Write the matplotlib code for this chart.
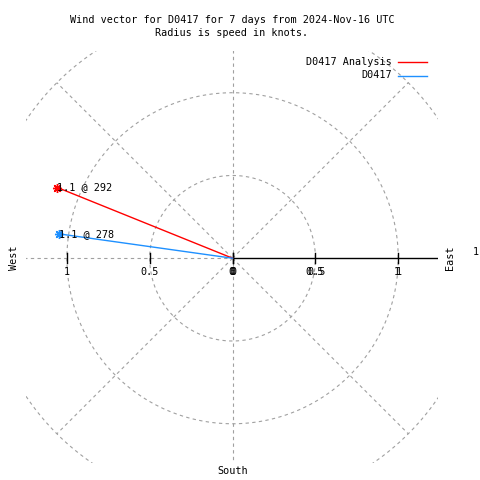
import numpy as np
import matplotlib
matplotlib.use("Agg")
import matplotlib.pyplot as plt

# wind vectors: speed (knots) and direction (degrees, from north clockwise)
names = ["D0417 Analysis", "D0417"]
speeds = [1.14, 1.06]
directions = [292, 278]
colors = ["#ff0000", "#1e90ff"]

r_ticks = [0, 0.5, 1]
grid_radii = [0.5, 1.0, 1.5]
spoke_angles = [45, 135, 225, 315]

W = H = 480
FONT = "DejaVu Sans Mono"
FS = 7.3
GRID = "#a0a0a0"

fig = plt.figure(figsize=(4.8, 4.8), dpi=100)

# pixel box of the plot: x 26..438, y 51..463
ax = fig.add_axes([26 / W, 1 - 463 / H, 412 / W, 412 / H])
ax.set_xlim(-1.247, 1.24)
ax.set_ylim(-1.237, 1.252)
ax.set_axis_off()

dash = dict(color=GRID, lw=0.8, ls=(0, (3, 3)))

# circles
t = np.linspace(0, 2 * np.pi, 400)
for r in grid_radii:
    ax.plot(r * np.cos(t), r * np.sin(t), **dash)

# spokes
for a in spoke_angles:
    ar = np.radians(a)
    ax.plot([0, 1.5 * np.cos(ar)], [0, 1.5 * np.sin(ar)], **dash)
ax.plot([0, 0], [-1.3, 1.3], **dash)
ax.plot([-1.3, 0], [0, 0], **dash)

# r axis
ax.plot([0, 1.3], [0, 0], color="black", lw=1.0)
for r in r_ticks:
    for xx in (r, -r):
        ax.plot([xx, xx], [-0.03, 0.03], color="black", lw=1.0)

# vectors
for name, s, d, c in zip(names, speeds, directions, colors):
    x = s * np.sin(np.radians(d))
    y = s * np.cos(np.radians(d))
    ax.plot([0, x], [0, y], color=c, lw=1.0, label=name)
    ax.plot([x], [y], marker=(8, 2, 0), color=c, ms=6.5, mew=1.0)
    ax.text(x, y, f"{s:.1f} @ {d}", family=FONT, fontsize=FS,
            ha="left", va="center")

# tick labels under the axis (left side once, right side doubled as in the original)
for r in r_ticks:
    lab = f"{r:g}"
    ax.text(-r, -0.085, lab, family=FONT, fontsize=FS, ha="center", va="center")
    ax.text(r - 0.006, -0.085, lab, family=FONT, fontsize=FS, ha="center", va="center")
    ax.text(r + 0.006, -0.085, lab, family=FONT, fontsize=FS, ha="center", va="center")

# legend drawn by hand
for i, (name, c) in enumerate(zip(names, colors)):
    ypx = 62 + i * 13.5
    fig.text(392 / W, 1 - ypx / H, name, family=FONT, fontsize=FS,
             ha="right", va="center")
    fig.add_artist(plt.Line2D([398 / W, 427 / W], [1 - ypx / H, 1 - ypx / H],
                              color=c, lw=1.0))

# direction labels
fig.text(14 / W, 1 - 258 / H, "West", family=FONT, fontsize=FS,
         rotation=90, ha="center", va="center")
fig.text(450 / W, 1 - 258 / H, "East", family=FONT, fontsize=FS,
         rotation=90, ha="center", va="center")
fig.text(233 / W, 1 - 471 / H, "South", family=FONT, fontsize=FS,
         ha="center", va="center")
fig.text(473 / W, 1 - 252 / H, "1", family=FONT, fontsize=FS,
         ha="left", va="center")

# title
fig.text(232 / W, 1 - 20 / H,
         "Wind vector for D0417 for 7 days from 2024-Nov-16 UTC",
         family=FONT, fontsize=FS, ha="center", va="center")
fig.text(232 / W, 1 - 33 / H, "Radius is speed in knots.",
         family=FONT, fontsize=FS, ha="center", va="center")

fig.savefig("out.png", dpi=100)
